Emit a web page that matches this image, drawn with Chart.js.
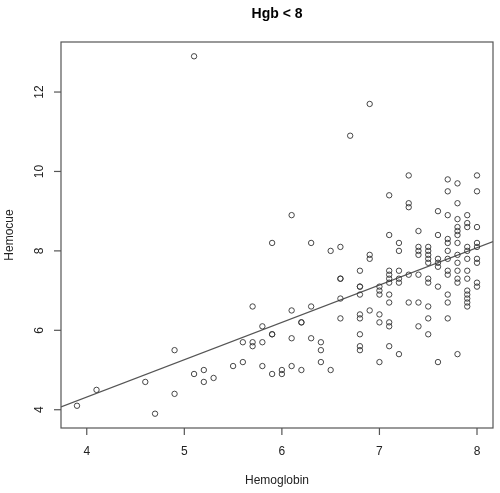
<!DOCTYPE html>
<html>
<head>
<meta charset="utf-8">
<script src="https://cdn.jsdelivr.net/npm/chart.js@4"></script>
<style>
  html, body { margin: 0; padding: 0; background: #fff; }
  #wrap { width: 500px; height: 493px; position: relative; }
</style>
</head>
<body>
<div id="wrap"><canvas id="c"></canvas></div>
<script>
// ---- Data ----
const titleText = "Hgb < 8";
const xLabel = "Hemoglobin";
const yLabel = "Hemocue";
const xTicks = [4, 5, 6, 7, 8];
const yTicks = [4, 6, 8, 10, 12];

const hemoglobin = [
  3.9, 4.1, 4.6, 4.7, 4.9, 4.9, 5.1, 5.1, 5.2, 5.2, 5.3, 5.5, 5.6, 5.6,
  5.7, 5.7, 5.7, 5.8, 5.8, 5.8, 5.9, 5.9, 5.9, 5.9, 6.0, 6.0,
  6.1, 6.1, 6.1, 6.1, 6.2, 6.2, 6.2, 6.3, 6.3, 6.3, 6.4, 6.4, 6.4, 6.5, 6.5,
  6.6, 6.6, 6.6, 6.6, 6.6, 6.7,
  6.8, 6.8, 6.8, 6.8, 6.8, 6.8, 6.8, 6.8, 6.8,
  6.9, 6.9, 6.9, 6.9,
  7.0, 7.0, 7.0, 7.0, 7.0, 7.0,
  7.1, 7.1, 7.1, 7.1, 7.1, 7.1, 7.1, 7.1, 7.1, 7.1, 7.1,
  7.2, 7.2, 7.2, 7.2, 7.2, 7.2,
  7.3, 7.3, 7.3, 7.3, 7.3,
  7.4, 7.4, 7.4, 7.4, 7.4, 7.4, 7.4,
  7.5, 7.5, 7.5, 7.5, 7.5, 7.5, 7.5, 7.5, 7.5, 7.5,
  7.6, 7.6, 7.6, 7.6, 7.6, 7.6, 7.6,
  7.7, 7.7, 7.7, 7.7, 7.7, 7.7, 7.7, 7.7, 7.7, 7.7, 7.7, 7.7,
  7.8, 7.8, 7.8, 7.8, 7.8, 7.8, 7.8, 7.8, 7.8, 7.8, 7.8, 7.8, 7.8,
  7.9, 7.9, 7.9, 7.9, 7.9, 7.9, 7.9, 7.9, 7.9, 7.9, 7.9, 7.9, 7.9,
  8.0, 8.0, 8.0, 8.0, 8.0, 8.0, 8.0, 8.0, 8.0
];
const hemocue = [
  4.1, 4.5, 4.7, 3.9, 5.5, 4.4, 4.9, 12.9, 5.0, 4.7, 4.8, 5.1, 5.2, 5.7,
  6.6, 5.7, 5.6, 6.1, 5.7, 5.1, 8.2, 5.9, 5.9, 4.9, 5.0, 4.9,
  8.9, 6.5, 5.8, 5.1, 6.2, 6.2, 5.0, 8.2, 6.6, 5.8, 5.7, 5.5, 5.2, 8.0, 5.0,
  8.1, 7.3, 7.3, 6.8, 6.3, 10.9,
  7.5, 7.1, 7.1, 6.9, 6.4, 6.3, 5.9, 5.6, 5.5,
  11.7, 7.9, 7.8, 6.5,
  7.1, 7.0, 6.9, 6.4, 6.2, 5.2,
  9.4, 8.4, 7.5, 7.4, 7.3, 7.2, 6.9, 6.7, 6.2, 6.1, 5.6,
  8.2, 8.0, 7.5, 7.3, 7.2, 5.4,
  9.9, 9.2, 9.1, 7.4, 6.7,
  8.5, 8.1, 8.0, 7.9, 7.4, 6.7, 6.1,
  8.1, 8.0, 7.9, 7.8, 7.7, 7.3, 7.2, 6.6, 6.3, 5.9,
  9.0, 8.4, 7.8, 7.7, 7.6, 7.1, 5.2,
  9.8, 9.5, 8.9, 8.3, 8.2, 8.0, 7.8, 7.5, 7.4, 6.9, 6.7, 6.3,
  9.7, 9.2, 8.8, 8.6, 8.5, 8.4, 8.2, 7.9, 7.7, 7.5, 7.3, 7.2, 5.4,
  8.9, 8.7, 8.6, 8.1, 8.0, 7.8, 7.5, 7.3, 7.0, 6.9, 6.8, 6.7, 6.6,
  9.9, 9.5, 8.6, 8.2, 8.1, 7.8, 7.7, 7.2, 7.1
];

// fitted line
const lineIntercept = 0.56;
const lineSlope = 0.94;

// axis limits (R-style 4% extension of data range)
const xMin = 3.736, xMax = 8.164;
const yMin = 3.54, yMax = 13.26;

// ---- Build chart ----
const points = hemoglobin.map((x, i) => ({ x: x, y: hemocue[i] }));
const fitLine = [
  { x: xMin, y: lineIntercept + lineSlope * xMin },
  { x: xMax, y: lineIntercept + lineSlope * xMax }
];

const FONT = '"Liberation Sans", Arial, Helvetica, sans-serif';

const rAxesPlugin = {
  id: 'rAxes',
  afterDraw(chart) {
    const ctx = chart.ctx;
    const a = chart.chartArea;
    const xs = chart.scales.x, ys = chart.scales.y;
    ctx.save();
    // box
    ctx.strokeStyle = '#555';
    ctx.lineWidth = 1.2;
    ctx.strokeRect(a.left, a.top, a.right - a.left, a.bottom - a.top);
    // x ticks
    ctx.fillStyle = '#222';
    ctx.font = '12px ' + FONT;
    ctx.textAlign = 'center';
    ctx.textBaseline = 'middle';
    xTicks.forEach(v => {
      const px = xs.getPixelForValue(v);
      ctx.beginPath();
      ctx.moveTo(px, a.bottom);
      ctx.lineTo(px, a.bottom + 7);
      ctx.stroke();
      ctx.fillText(String(v), px, 452);
    });
    // y ticks (rotated labels like R's default)
    yTicks.forEach(v => {
      const py = ys.getPixelForValue(v);
      ctx.beginPath();
      ctx.moveTo(a.left, py);
      ctx.lineTo(a.left - 7, py);
      ctx.stroke();
      ctx.save();
      ctx.translate(40, py);
      ctx.rotate(-Math.PI / 2);
      ctx.fillText(String(v), 0, 0);
      ctx.restore();
    });
    // axis titles
    ctx.fillText(xLabel, (a.left + a.right) / 2, 481);
    ctx.save();
    ctx.translate(10, (a.top + a.bottom) / 2);
    ctx.rotate(-Math.PI / 2);
    ctx.fillText(yLabel, 0, 0);
    ctx.restore();
    // main title
    ctx.font = 'bold 14px ' + FONT;
    ctx.fillStyle = '#000';
    ctx.fillText(titleText, (a.left + a.right) / 2, 14);
    ctx.restore();
  }
};

new Chart(document.getElementById('c'), {
  type: 'scatter',
  data: {
    datasets: [
      {
        label: 'Hemocue vs Hemoglobin',
        data: points,
        showLine: false,
        pointStyle: 'circle',
        pointRadius: 2.7,
        pointBorderWidth: 0.9,
        pointBorderColor: '#333',
        pointBackgroundColor: 'rgba(0,0,0,0)',
        pointHoverRadius: 2.7
      },
      {
        label: 'fit',
        data: fitLine,
        showLine: true,
        borderColor: '#555',
        borderWidth: 1.1,
        pointRadius: 0,
        fill: false
      }
    ]
  },
  options: {
    responsive: true,
    maintainAspectRatio: false,
    animation: false,
    devicePixelRatio: 1,
    layout: { padding: { left: 61, right: 7, top: 42, bottom: 65 } },
    plugins: {
      legend: { display: false },
      title: { display: false },
      tooltip: { enabled: false }
    },
    scales: {
      x: { type: 'linear', min: xMin, max: xMax, display: false },
      y: { type: 'linear', min: yMin, max: yMax, display: false }
    }
  },
  plugins: [rAxesPlugin]
});
</script>
</body>
</html>
